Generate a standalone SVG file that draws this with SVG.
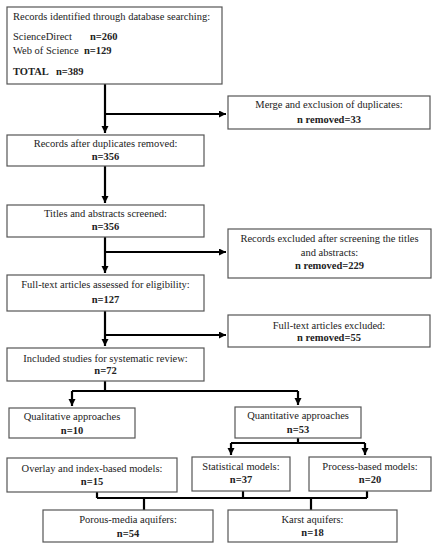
<svg xmlns="http://www.w3.org/2000/svg" width="438" height="550" viewBox="0 0 438 550">
<defs>
<marker id="ah" markerUnits="userSpaceOnUse" markerWidth="8" markerHeight="8" refX="7" refY="3.5" orient="auto">
<path d="M0,0 L7,3.5 L0,7 Z" fill="#000"/>
</marker>
<style>
rect.b{fill:#fff;stroke:#555;stroke-width:1.2}
text{font-family:"Liberation Serif","Times New Roman",serif;font-size:10.5px;fill:#222}
text.c{text-anchor:middle}
.bd{font-weight:bold}
#connectors path{fill:none;stroke:#000;stroke-width:2.2}
</style>
</defs>
<rect width="438" height="550" fill="#fff"/>
<g id="connectors">
<path d="M105,84 V133" marker-end="url(#ah)"/>
<path d="M105,114 H226" marker-end="url(#ah)"/>
<path d="M105,166 V203" marker-end="url(#ah)"/>
<path d="M105,237 V273" marker-end="url(#ah)"/>
<path d="M105,252 H226" marker-end="url(#ah)"/>
<path d="M105,311 V346" marker-end="url(#ah)"/>
<path d="M105,335 H226" marker-end="url(#ah)"/>
<path d="M105,381 V391"/>
<path d="M72,391 H298"/>
<path d="M72,391 V406" marker-end="url(#ah)"/>
<path d="M298,391 V405" marker-end="url(#ah)"/>
<path d="M298,438 V443"/>
<path d="M231,443 H365"/>
<path d="M231,443 V455" marker-end="url(#ah)"/>
<path d="M365,443 V455" marker-end="url(#ah)"/>
<path d="M97,492 V498"/>
<path d="M243,491 V498"/>
<path d="M367,491 V498"/>
<path d="M97,498 H367"/>
<path d="M144,498 V510"/>
<path d="M311,498 V510"/>
</g>
<g id="n1">
<rect class="b" x="7" y="7" width="215" height="77"/>
<text x="13" y="20">Records identified through database searching:</text>
<text x="13" y="40">ScienceDirect</text><text x="90" y="40" class="bd">n=260</text>
<text x="13" y="54">Web of Science</text><text x="84" y="54" class="bd">n=129</text>
<text x="13" y="75" class="bd">TOTAL</text><text x="56" y="75" class="bd">n=389</text>
</g>
<g id="n2">
<rect class="b" x="228" y="96" width="202" height="33"/>
<text class="c" x="329" y="108">Merge and exclusion of duplicates:</text>
<text class="c bd" x="329" y="123">n removed=33</text>
</g>
<g id="n3">
<rect class="b" x="7" y="135" width="197" height="31"/>
<text class="c" x="105.5" y="147">Records after duplicates removed:</text>
<text class="c bd" x="105.5" y="160">n=356</text>
</g>
<g id="n4">
<rect class="b" x="7" y="205" width="197" height="32"/>
<text class="c" x="105.5" y="217">Titles and abstracts screened:</text>
<text class="c bd" x="105.5" y="230">n=356</text>
</g>
<g id="n5">
<rect class="b" x="228" y="229" width="203" height="49"/>
<text class="c" x="329.5" y="242">Records excluded after screening the titles</text>
<text class="c" x="329.5" y="256">and abstracts:</text>
<text class="c bd" x="329.5" y="269">n removed=229</text>
</g>
<g id="n6">
<rect class="b" x="7" y="275" width="197" height="36"/>
<text class="c" x="105.5" y="288">Full-text articles assessed for eligibility:</text>
<text class="c bd" x="105.5" y="303">n=127</text>
</g>
<g id="n7">
<rect class="b" x="228" y="315" width="202" height="32"/>
<text class="c" x="329" y="329">Full-text articles excluded:</text>
<text class="c bd" x="329" y="341">n removed=55</text>
</g>
<g id="n8">
<rect class="b" x="7" y="348" width="197" height="33"/>
<text class="c" x="105.5" y="362">Included studies for systematic review:</text>
<text class="c bd" x="105.5" y="374">n=72</text>
</g>
<g id="n9">
<rect class="b" x="9" y="408" width="126" height="30"/>
<text class="c" x="72" y="420">Qualitative approaches</text>
<text class="c bd" x="72" y="434">n=10</text>
</g>
<g id="n10">
<rect class="b" x="235" y="407" width="126" height="31"/>
<text class="c" x="298" y="419">Quantitative approaches</text>
<text class="c bd" x="298" y="433">n=53</text>
</g>
<g id="n11">
<rect class="b" x="7" y="458" width="170" height="34"/>
<text class="c" x="92" y="472">Overlay and index-based models:</text>
<text class="c bd" x="92" y="485">n=15</text>
</g>
<g id="n12">
<rect class="b" x="192" y="457" width="98" height="34"/>
<text class="c" x="241" y="470">Statistical models:</text>
<text class="c bd" x="241" y="483">n=37</text>
</g>
<g id="n13">
<rect class="b" x="309" y="457" width="122" height="34"/>
<text class="c" x="370" y="470">Process-based models:</text>
<text class="c bd" x="370" y="483">n=20</text>
</g>
<g id="n14">
<rect class="b" x="43" y="510" width="170" height="32"/>
<text class="c" x="128" y="523">Porous-media aquifers:</text>
<text class="c bd" x="128" y="537">n=54</text>
</g>
<g id="n15">
<rect class="b" x="228" y="510" width="169" height="32"/>
<text class="c" x="312.5" y="523">Karst aquifers:</text>
<text class="c bd" x="312.5" y="536">n=18</text>
</g>
</svg>
